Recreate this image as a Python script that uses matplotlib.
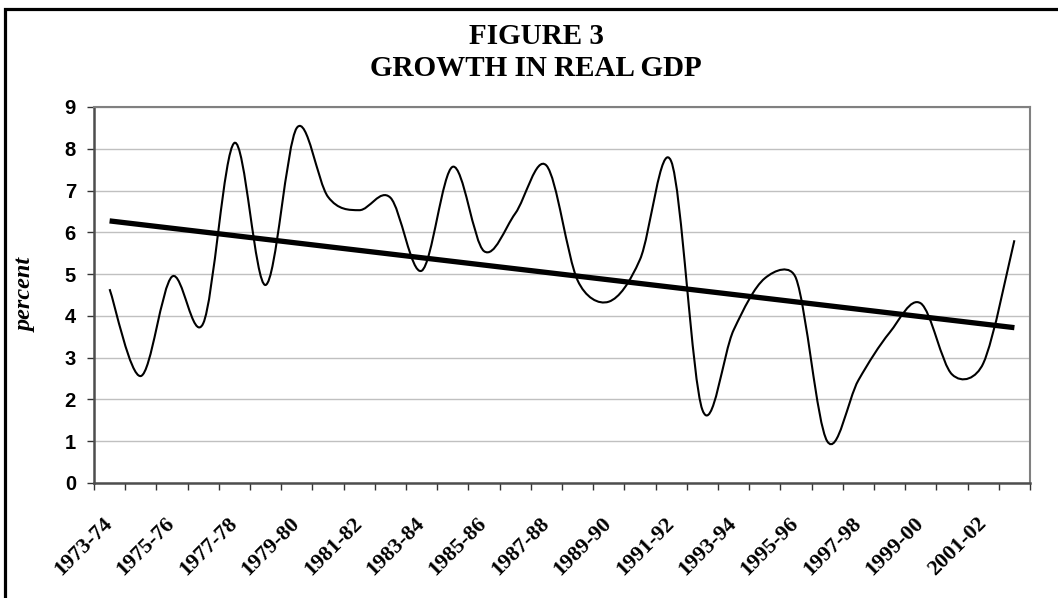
import matplotlib
matplotlib.use("Agg")
import matplotlib.pyplot as plt
import numpy as np
from matplotlib.path import Path
from matplotlib.patches import PathPatch, Rectangle

# Fiscal years and real GDP growth (percent)
years = ["1973-74", "1974-75", "1975-76", "1976-77", "1977-78", "1978-79",
         "1979-80", "1980-81", "1981-82", "1982-83", "1983-84", "1984-85",
         "1985-86", "1986-87", "1987-88", "1988-89", "1989-90", "1990-91",
         "1991-92", "1992-93", "1993-94", "1994-95", "1995-96", "1996-97",
         "1997-98", "1998-99", "1999-00", "2000-01", "2001-02", "2002-03"]
growth = [4.64, 2.56, 4.94, 3.82, 8.14, 4.74, 8.50, 6.85, 6.53, 6.83,
          5.08, 7.57, 5.55, 6.45, 7.60, 4.85, 4.34, 5.35, 7.70, 1.75,
          3.66, 4.90, 4.90, 1.00, 2.46, 3.60, 4.30, 2.60, 2.86, 5.81]

x = np.arange(len(years))
y = np.array(growth)

fig = plt.figure(figsize=(10.58, 5.98), dpi=100)
ax = fig.add_axes([94 / 1058, 1 - 483 / 598, (1030 - 94) / 1058, (483 - 107) / 598])
ax.set_xlim(-0.5, len(years) - 0.5)
ax.set_ylim(0, 9)

# smoothed line like Excel: cubic Bezier with 1/6 tangents, clamped in screen space
def smooth_path(xs, ys):
    sx = 936 / len(xs)   # px per category
    sy = 376 / 9         # px per percent
    P = np.column_stack([xs * sx, ys * sy])
    P = np.vstack([P[0], P, P[-1]])
    verts = [(xs[0], ys[0])]
    codes = [Path.MOVETO]
    for i in range(1, len(P) - 2):
        p0, p1, p2, p3 = P[i - 1], P[i], P[i + 1], P[i + 2]
        d12 = np.hypot(*(p2 - p1))
        d02 = np.hypot(*(p2 - p0)) or 1.0
        d13 = np.hypot(*(p3 - p1)) or 1.0
        f = min(1 / 6, 0.5 * d12 / d02)
        g = min(1 / 6, 0.5 * d12 / d13)
        c1 = p1 + (p2 - p0) * f
        c2 = p2 - (p3 - p1) * g
        for c in (c1, c2, p2):
            verts.append((c[0] / sx, c[1] / sy))
        codes += [Path.CURVE4] * 3
    return Path(verts, codes)

ax.add_patch(PathPatch(smooth_path(x.astype(float), y), fill=False, ec="black",
                       lw=1.5, capstyle="butt", zorder=3))

# linear trend
k, b = np.polyfit(x, y, 1)
ax.plot(x, k * x + b, color="black", lw=3.8, solid_capstyle="butt", zorder=4)

ax.set_yticks(range(10))
ax.set_yticklabels([str(v) for v in range(10)], fontfamily="Liberation Sans",
                   fontweight="bold", fontsize=14.5)
ax.tick_params(axis="y", direction="out", length=5, width=1, color="#333333", pad=8)

ax.set_xticks(np.arange(-0.5, len(years), 1.0))
ax.set_xticklabels([])
ax.tick_params(axis="x", which="major", direction="out", length=5, width=1, color="#333333")
ax.set_xticks(x[::2], minor=True)
ax.set_xticklabels(years[::2], minor=True, rotation=45, ha="right", va="center",
                   rotation_mode="anchor", fontfamily="Liberation Serif",
                   fontweight="bold", fontsize=15.8)
ax.tick_params(axis="x", which="minor", length=0, pad=27)

ax.grid(axis="y", color="#c0c0c0", lw=1)
ax.set_axisbelow(True)
for s in ["top", "right"]:
    ax.spines[s].set_color("#808080")
    ax.spines[s].set_linewidth(1.5)
for s in ["left", "bottom"]:
    ax.spines[s].set_color("#4d4d4d")
    ax.spines[s].set_linewidth(1.8)

ax.set_ylabel("percent", fontfamily="Liberation Serif", fontweight="bold",
              fontstyle="italic", fontsize=17.5, labelpad=20)

fig.text(536 / 1058, 1 - 37 / 598, "FIGURE 3", ha="center", va="center",
         fontfamily="Liberation Serif", fontweight="bold", fontsize=21)
fig.text(536 / 1058, 1 - 68 / 598, "GROWTH IN REAL GDP", ha="center", va="center",
         fontfamily="Liberation Serif", fontweight="bold", fontsize=21)

# outer chart border
fig.patches.append(Rectangle((5 / 1058, -0.05), 1.2, 1.05 - 9.5 / 598,
                             transform=fig.transFigure, fill=False,
                             ec="black", lw=2.3))

fig.savefig("out.png", dpi=100)
